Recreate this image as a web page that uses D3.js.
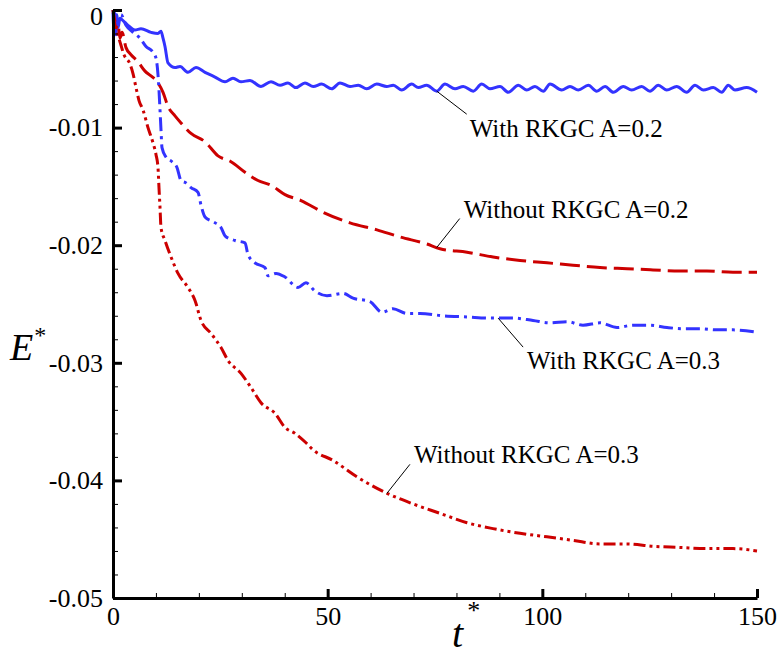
<!DOCTYPE html>
<html>
<head>
<meta charset="utf-8">
<script src="https://cdn.jsdelivr.net/npm/d3@7"></script>
<style>
  body { margin: 0; background: #fff; }
  svg text { font-family: 'Liberation Serif', Tinos, 'Times New Roman', Times, 'Nimbus Roman', 'DejaVu Serif', serif; }
</style>
</head>
<body>
<svg id="chart" width="782" height="658"></svg>
<script>
// ---- data: time t*, energy E* ----
const withA02_t = [0, 0.23, 0.47, 0.70, 0.93, 1.16, 1.63, 2.33, 3.49, 5.12, 6.52, 8.85, 10.48, 11.18, 11.65, 12.11, 12.81, 14.44, 15.61, 17.47, 19.33, 21.43, 23.76, 26.09, 27.95, 29.81, 31.91, 34.47, 36.80, 38.90, 40.76, 42.62, 44.72, 46.65, 48.61, 50.94, 52.87, 55.20, 57.14, 59.09, 61.42, 63.75, 65.29, 67.24, 69.57, 71.11, 73.07, 75.40, 77.33, 79.66, 81.59, 83.92, 85.88, 87.81, 90.14, 92.07, 94.40, 96.36, 98.29, 100.23, 101.79, 104.51, 106.44, 108.38, 110.71, 112.66, 114.60, 116.53, 118.86, 120.81, 123.14, 125.08, 127.01, 128.97, 131.30, 133.63, 135.56, 137.49, 139.82, 141.78, 143.31, 144.87, 147.60, 150];
const withA02_E = [-0.0002, -0.0017, -0.0003, -0.0021, -0.0004, -0.0015, -0.0007, -0.0009, -0.0013, -0.0017, -0.0016, -0.0019, -0.0020, -0.0018, -0.0024, -0.0031, -0.0045, -0.0049, -0.0048, -0.0053, -0.0049, -0.0053, -0.0057, -0.0061, -0.0058, -0.0061, -0.0060, -0.0065, -0.0061, -0.0064, -0.0062, -0.0066, -0.0062, -0.0065, -0.0063, -0.0067, -0.0062, -0.0065, -0.0064, -0.0067, -0.0063, -0.0065, -0.0064, -0.0068, -0.0063, -0.0066, -0.0064, -0.0069, -0.0063, -0.0067, -0.0065, -0.0069, -0.0063, -0.0067, -0.0065, -0.0070, -0.0064, -0.0068, -0.0065, -0.0069, -0.0063, -0.0068, -0.0065, -0.0068, -0.0064, -0.0069, -0.0065, -0.0070, -0.0065, -0.0068, -0.0065, -0.0069, -0.0064, -0.0068, -0.0065, -0.0070, -0.0064, -0.0068, -0.0066, -0.0070, -0.0064, -0.0068, -0.0066, -0.0070];

const withoutA02_t = [0, 0.70, 1.16, 1.63, 2.10, 3.03, 4.19, 5.82, 7.45, 8.85, 10.48, 11.65, 12.81, 14.44, 15.84, 18.17, 21.43, 24.46, 27.49, 30.75, 33.77, 36.80, 40.06, 43.79, 48.91, 55.20, 61.49, 66.85, 73.14, 76.17, 82.46, 88.51, 94.80, 101.09, 107.14, 113.43, 119.72, 125.77, 132.06, 138.35, 144.41, 150];
const withoutA02_E = [0, -0.0015, -0.0012, -0.0024, -0.0019, -0.0032, -0.0038, -0.0044, -0.0052, -0.0056, -0.0062, -0.0070, -0.0082, -0.0090, -0.0096, -0.0105, -0.0112, -0.0124, -0.0129, -0.0138, -0.0145, -0.0149, -0.0157, -0.0162, -0.0172, -0.0181, -0.0187, -0.0193, -0.0199, -0.0203, -0.0206, -0.0210, -0.0213, -0.0215, -0.0217, -0.0219, -0.0220, -0.0221, -0.0222, -0.0222, -0.0223, -0.0223];

const withA03_t = [0, 0.93, 1.86, 3.03, 4.66, 6.29, 7.69, 9.32, 10.02, 10.48, 10.71, 10.95, 11.18, 11.41, 12.34, 13.74, 14.91, 15.84, 17.00, 18.17, 19.80, 20.50, 21.43, 23.29, 25.16, 26.09, 28.42, 30.75, 31.44, 33.07, 35.40, 36.10, 37.97, 40.06, 43.09, 44.95, 47.05, 49.84, 53.57, 55.90, 59.86, 62.66, 65.22, 68.48, 71.51, 76.86, 82.45, 87.81, 93.17, 97.83, 101.79, 105.75, 109.47, 113.43, 117.39, 121.12, 125.08, 129.04, 132.76, 136.72, 140.68, 144.41, 150];
const withA03_E = [0, -0.0009, -0.0004, -0.0013, -0.0019, -0.0024, -0.0031, -0.0036, -0.0041, -0.0055, -0.0068, -0.0085, -0.0102, -0.0117, -0.0125, -0.0129, -0.0134, -0.0145, -0.0147, -0.0151, -0.0155, -0.0166, -0.0176, -0.0180, -0.0185, -0.0192, -0.0196, -0.0198, -0.0208, -0.0215, -0.0219, -0.0226, -0.0224, -0.0227, -0.0236, -0.0232, -0.0239, -0.0243, -0.0241, -0.0245, -0.0248, -0.0257, -0.0254, -0.0258, -0.0258, -0.0260, -0.0261, -0.0262, -0.0262, -0.0264, -0.0266, -0.0265, -0.0268, -0.0266, -0.0270, -0.0268, -0.0268, -0.0270, -0.0271, -0.0271, -0.0272, -0.0272, -0.0274];

const withoutA03_t = [0, 0.47, 1.16, 1.86, 2.56, 3.96, 4.66, 5.36, 6.06, 6.99, 8.15, 9.32, 10.02, 10.48, 10.71, 10.95, 11.18, 12.11, 13.51, 15.14, 17.47, 19.10, 20.50, 22.83, 25.16, 26.79, 29.81, 32.14, 34.47, 37.73, 40.06, 42.39, 44.95, 46.58, 51.24, 56.83, 63.82, 69.88, 76.17, 82.45, 88.51, 94.80, 101.09, 107.14, 113.43, 119.72, 125.77, 132.06, 138.35, 144.41, 150];
const withoutA03_E = [0, -0.0010, -0.0021, -0.0030, -0.0038, -0.0046, -0.0054, -0.0066, -0.0077, -0.0085, -0.0100, -0.0113, -0.0123, -0.0134, -0.0151, -0.0168, -0.0185, -0.0196, -0.0210, -0.0224, -0.0236, -0.0247, -0.0264, -0.0275, -0.0287, -0.0298, -0.0309, -0.0321, -0.0334, -0.0343, -0.0355, -0.0360, -0.0368, -0.0374, -0.0383, -0.0397, -0.0411, -0.0420, -0.0428, -0.0436, -0.0441, -0.0445, -0.0448, -0.0451, -0.0454, -0.0454, -0.0456, -0.0457, -0.0458, -0.0458, -0.0460];

const xTicks = [0, 50, 100, 150];
const xTickLabels = ["0", "50", "100", "150"];
const yTicks = [0, -0.01, -0.02, -0.03, -0.04, -0.05];
const yTickLabels = ["0", "-0.01", "-0.02", "-0.03", "-0.04", "-0.05"];

const seriesNames = ["With RKGC A=0.2", "Without RKGC A=0.2", "With RKGC A=0.3", "Without RKGC A=0.3"];
// point on each curve where the label's leader line starts
const labelT = [75.4, 75.4, 89.7, 63.8];
const labelE = [-0.0069, -0.0202, -0.0262, -0.0411];

// ---- layout ----
const svg = d3.select('#chart');
const mLeft = 113, mRight = 757, mTop = 10, mBottom = 598;
const blue = '#3333ff', red = '#cc0000';
const serif = "'Liberation Serif', Tinos, 'Times New Roman', Times, 'Nimbus Roman', 'DejaVu Serif', serif";

const x = d3.scaleLinear().domain([0, 150]).range([mLeft, mRight]);
const y = d3.scaleLinear().domain([-0.05, 0]).range([mBottom, mTop]);

const series = [
  {t: withA02_t, E: withA02_E, color: blue, dash: null},
  {t: withoutA02_t, E: withoutA02_E, color: red, dash: '20,7'},
  {t: withA03_t, E: withA03_E, color: blue, dash: '14,5,3,5'},
  {t: withoutA03_t, E: withoutA03_E, color: red, dash: '12,4,3,4,3,4'}
];

const line = d3.line()
  .x(d => x(d[0]))
  .y(d => y(d[1]))
  .curve(d3.curveMonotoneX);

series.forEach(s => {
  svg.append('path')
    .datum(s.t.map((t, i) => [t, s.E[i]]))
    .attr('d', line)
    .attr('fill', 'none')
    .attr('stroke', s.color)
    .attr('stroke-width', 3)
    .attr('stroke-dasharray', s.dash);
});

// minor ticks
const xMinor = d3.range(0, 151, 10).filter(v => !xTicks.includes(v));
const yMinor = d3.range(0, 26).map(i => -i * 0.002).filter(v => Math.abs(v * 100 - Math.round(v * 100)) > 1e-6);

svg.append('g')
  .attr('transform', 'translate(0,' + mBottom + ')')
  .call(d3.axisBottom(x).tickValues(xMinor).tickSize(-5).tickFormat(''))
  .call(g => g.select('.domain').remove())
  .call(g => g.selectAll('line').attr('stroke-width', 1));
svg.append('g')
  .attr('transform', 'translate(' + mLeft + ',0)')
  .call(d3.axisLeft(y).tickValues(yMinor).tickSize(-5).tickFormat(''))
  .call(g => g.select('.domain').remove())
  .call(g => g.selectAll('line').attr('stroke-width', 1));

// major axes
const xAxis = svg.append('g')
  .attr('transform', 'translate(0,' + mBottom + ')')
  .call(d3.axisBottom(x).tickValues(xTicks).tickSizeInner(-9).tickSizeOuter(0).tickPadding(9)
    .tickFormat((d, i) => xTickLabels[i]));
const yAxis = svg.append('g')
  .attr('transform', 'translate(' + mLeft + ',0)')
  .call(d3.axisLeft(y).tickValues(yTicks).tickSizeInner(-9).tickSizeOuter(0).tickPadding(10)
    .tickFormat((d, i) => yTickLabels[i]));

[xAxis, yAxis].forEach(g => {
  g.attr('font-family', serif);
  g.select('.domain').attr('stroke-width', 3).attr('stroke', '#000');
  g.selectAll('.tick line').attr('stroke-width', 3);
  g.selectAll('.tick text')
    .attr('font-family', serif)
    .attr('font-size', 26)
    .attr('fill', '#000');
});
// keep the top label inside the page
yAxis.selectAll('.tick text').filter(d => d === 0).attr('dy', '0.55em');

// axis titles
const xt = svg.append('text').attr('x', 452).attr('y', 647)
  .attr('font-family', serif).attr('font-size', 40).attr('font-style', 'italic');
xt.append('tspan').text('t');
xt.append('tspan').attr('dx', 4).attr('dy', -28).attr('font-size', 26).attr('font-style', 'normal').text('*');

const yt = svg.append('text').attr('x', 10).attr('y', 360)
  .attr('font-family', serif).attr('font-size', 38).attr('font-style', 'italic');
yt.append('tspan').text('E');
yt.append('tspan').attr('dx', 1).attr('dy', -17).attr('font-size', 24).attr('font-style', 'normal').text('*');

// curve labels with leader lines
const leaderEnd = [[30, 23], [23, -29], [25, 29], [23, -29]];
const textPos = [[33, 46], [27, -30], [29, 51], [27, -30]];
seriesNames.forEach((name, i) => {
  const px = x(labelT[i]), py = y(labelE[i]);
  svg.append('line')
    .attr('x1', px).attr('y1', py)
    .attr('x2', px + leaderEnd[i][0]).attr('y2', py + leaderEnd[i][1])
    .attr('stroke', '#000').attr('stroke-width', 1);
  svg.append('text')
    .attr('x', px + textPos[i][0]).attr('y', py + textPos[i][1])
    .attr('font-family', serif)
    .attr('font-size', 25)
    .text(name);
});
</script>
</body>
</html>
